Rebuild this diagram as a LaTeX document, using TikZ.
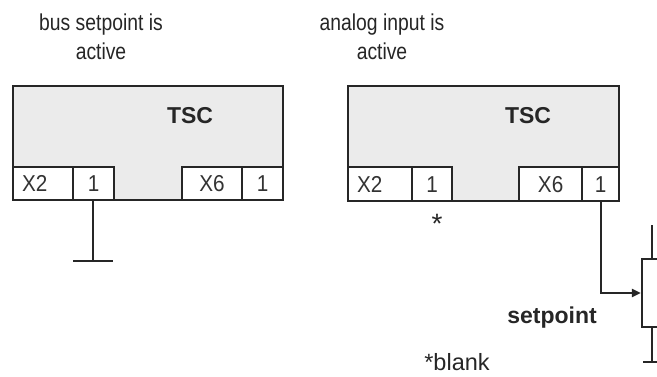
\documentclass[tikz,border=0pt]{standalone}
\usepackage{fontspec}
\setmainfont{Liberation Sans}
\newfontfamily\titlefont[FakeStretch=0.84]{Liberation Sans}
\newfontfamily\cellfont[FakeStretch=0.9]{Liberation Sans}
\usetikzlibrary{arrows.meta}
\begin{document}
\begin{tikzpicture}[x=1pt,y=-1pt,
  box/.style={draw=black!85,line width=2.4pt,fill=black!8,inner sep=0pt,anchor=north west},
  cell/.style={draw=black!85,line width=2.2pt,fill=white,inner sep=0pt,anchor=north west,font=\cellfont\fontsize{23}{23}\selectfont,text=black!80},
  wire/.style={draw=black!85,line width=2pt},
  title/.style={align=center,font=\titlefont\fontsize{23}{29}\selectfont,text=black!85},
  tsc/.style={font=\bfseries\fontsize{23}{23}\selectfont,text=black!85},
  lbl/.style={text=black!85,anchor=base,inner sep=0pt}]
\useasboundingbox (0,0) rectangle (657,376);
% titles
\node[title] (t1) at (101,37) {bus setpoint is\\active};
\node[title] (t2) at (382,37) {analog input is\\active};
% left box
\node[box,minimum width=270pt,minimum height=114pt] (bl) at (12,85) {};
\node[tsc] (tscl) at (190,116) {TSC};
\node[cell,minimum width=60pt,minimum height=33pt,text width=60pt,align=left] (lx2) at (12,166) {\hspace*{9pt}X2};
\node[cell,minimum width=41pt,minimum height=33pt] (l1a) at (72,166) {1};
\node[cell,minimum width=60pt,minimum height=33pt] (lx6) at (181,166) {X6};
\node[cell,minimum width=41pt,minimum height=33pt] (l1b) at (241,166) {1};
\coordinate (gl) at (93,261);
\coordinate (gla) at (73,261);
\coordinate (glb) at (113,261);
\draw[wire] (l1a.south -| gl) -- (gl);
\draw[wire] (gla) -- (glb);
% right box
\node[box,minimum width=271pt,minimum height=115pt] (br) at (347,85) {};
\node[tsc] (tscr) at (528,116) {TSC};
\node[cell,minimum width=64pt,minimum height=34pt,text width=64pt,align=left] (rx2) at (347,166) {\hspace*{9pt}X2};
\node[cell,minimum width=40pt,minimum height=34pt] (r1a) at (411,166) {1};
\node[cell,minimum width=63pt,minimum height=34pt] (rx6) at (518,166) {X6};
\node[cell,minimum width=37pt,minimum height=34pt] (r1b) at (581,166) {1};
\node[lbl,font=\fontsize{28}{28}\selectfont] (ast) at (437,233) {*};
% potentiometer
\node[draw=black!85,line width=2.2pt,minimum width=20pt,minimum height=68pt,inner sep=0pt] (pot) at (652,293) {};
\coordinate (ptop) at (652,225);
\coordinate (pbot) at (652,362);
\coordinate (pga) at (643,362);
\coordinate (pgb) at (662,362);
\draw[wire] (ptop) -- (pot.north);
\draw[wire] (pot.south) -- (pbot);
\draw[wire] (pga) -- (pgb);
\draw[wire,-{Triangle[length=9pt,width=8pt]}] (r1b.south) |- (pot.west);
\node[lbl,font=\bfseries\fontsize{23}{23}\selectfont] (sp) at (552,323) {setpoint};
\node[lbl,font=\fontsize{23.5}{23.5}\selectfont] (bk) at (457,370) {*blank};
\end{tikzpicture}
\end{document}
